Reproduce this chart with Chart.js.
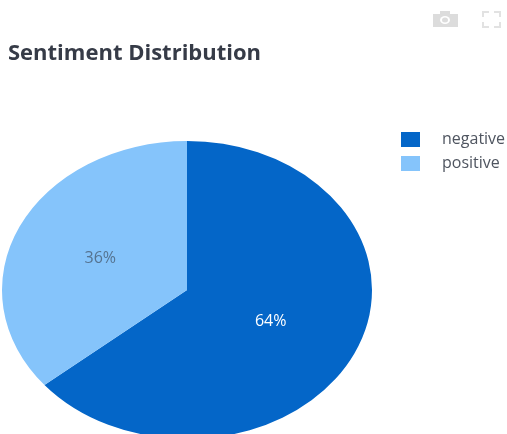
<!DOCTYPE html>
<html lang="en">
<head>
    <meta charset="UTF-8">
    <title>Sentiment Distribution</title>
    <script src="https://cdn.jsdelivr.net/npm/chart.js"></script>
    <style>
        html, body { margin: 0; padding: 0; background: #fff; overflow: hidden; }
        #wrap { width: 507px; height: 434px; overflow: hidden; }
        canvas { display: block; }
    </style>
</head>
<body>
    <div id="wrap"><canvas id="sentimentChart" width="507" height="460"></canvas></div>

    <script>
        var categories = ['negative', 'positive'];
        var shares = [64, 36];
        var sliceColors = ['#0466c8', '#85c4fb'];
        var labelColors = ['#ffffff', '#557390'];
        var labelNudgeX = [0, -3];

        // pie is wider than it is tall, so the arcs get drawn through a scaled context
        var pieBox = { cx: 187, cy: 290, rx: 185, ry: 149 };

        function pieTransform(chart, ctx) {
            var arc = chart.getDatasetMeta(0).data[0];
            ctx.translate(pieBox.cx, pieBox.cy);
            ctx.scale(pieBox.rx / arc.outerRadius, pieBox.ry / arc.outerRadius);
            ctx.translate(-arc.x, -arc.y);
        }

        var ellipsePie = {
            id: 'ellipsePie',
            beforeDatasetDraw: function (chart) {
                chart.ctx.save();
                pieTransform(chart, chart.ctx);
            },
            afterDatasetDraw: function (chart) {
                chart.ctx.restore();
            }
        };

        var extras = {
            id: 'extras',
            afterDraw: function (chart) {
                var ctx = chart.ctx;
                var arcs = chart.getDatasetMeta(0).data;
                var total = shares.reduce(function (a, b) { return a + b; }, 0);

                // percent labels in the middle of each slice
                ctx.save();
                ctx.font = '16px "Open Sans"';
                ctx.textAlign = 'center';
                ctx.textBaseline = 'middle';
                arcs.forEach(function (arc, i) {
                    var p = arc.tooltipPosition();
                    var sx = pieBox.rx / arc.outerRadius;
                    var sy = pieBox.ry / arc.outerRadius;
                    ctx.fillStyle = labelColors[i];
                    ctx.fillText(Math.round(shares[i] / total * 100) + '%',
                        pieBox.cx + (p.x - arc.x) * sx + labelNudgeX[i], pieBox.cy + (p.y - arc.y) * sy);
                });

                // legend
                ctx.textAlign = 'left';
                ctx.font = '16px "Open Sans"';
                categories.forEach(function (name, i) {
                    var y = 132 + i * 24;
                    ctx.fillStyle = sliceColors[i];
                    ctx.fillRect(401, y, 19, 15);
                    ctx.fillStyle = '#4f5560';
                    ctx.fillText(name, 442, y + 7.5);
                });

                // toolbar icons, top right
                ctx.fillStyle = '#dcdcdc';
                ctx.beginPath();
                ctx.rect(433, 14, 25, 13);
                ctx.rect(440, 11, 10, 3);
                ctx.fill();
                ctx.fillStyle = '#ffffff';
                ctx.beginPath();
                ctx.ellipse(445, 20, 5, 4, 0, 0, Math.PI * 2);
                ctx.fill();
                ctx.fillStyle = '#dcdcdc';
                ctx.beginPath();
                ctx.ellipse(445, 20, 3, 2.5, 0, 0, Math.PI * 2);
                ctx.fill();

                ctx.strokeStyle = '#e2e2e2';
                ctx.lineWidth = 2;
                ctx.beginPath();
                ctx.moveTo(483, 17); ctx.lineTo(483, 12); ctx.lineTo(489, 12);
                ctx.moveTo(494, 12); ctx.lineTo(500, 12); ctx.lineTo(500, 17);
                ctx.moveTo(500, 22); ctx.lineTo(500, 27); ctx.lineTo(494, 27);
                ctx.moveTo(489, 27); ctx.lineTo(483, 27); ctx.lineTo(483, 22);
                ctx.stroke();
                ctx.restore();
            }
        };

        new Chart(document.getElementById('sentimentChart'), {
            type: 'pie',
            data: {
                labels: categories,
                datasets: [{
                    data: shares,
                    backgroundColor: sliceColors,
                    borderWidth: 0,
                    clip: false
                }]
            },
            options: {
                responsive: false,
                animation: false,
                layout: { padding: { left: 8 } },
                plugins: {
                    legend: { display: false },
                    tooltip: { enabled: false },
                    title: {
                        display: true,
                        text: 'Sentiment Distribution',
                        align: 'start',
                        color: '#363b47',
                        font: { family: '"Open Sans"', size: 22, weight: 'bold' },
                        padding: { top: 41, bottom: 20 }
                    }
                }
            },
            plugins: [ellipsePie, extras]
        });
    </script>
</body>
</html>
